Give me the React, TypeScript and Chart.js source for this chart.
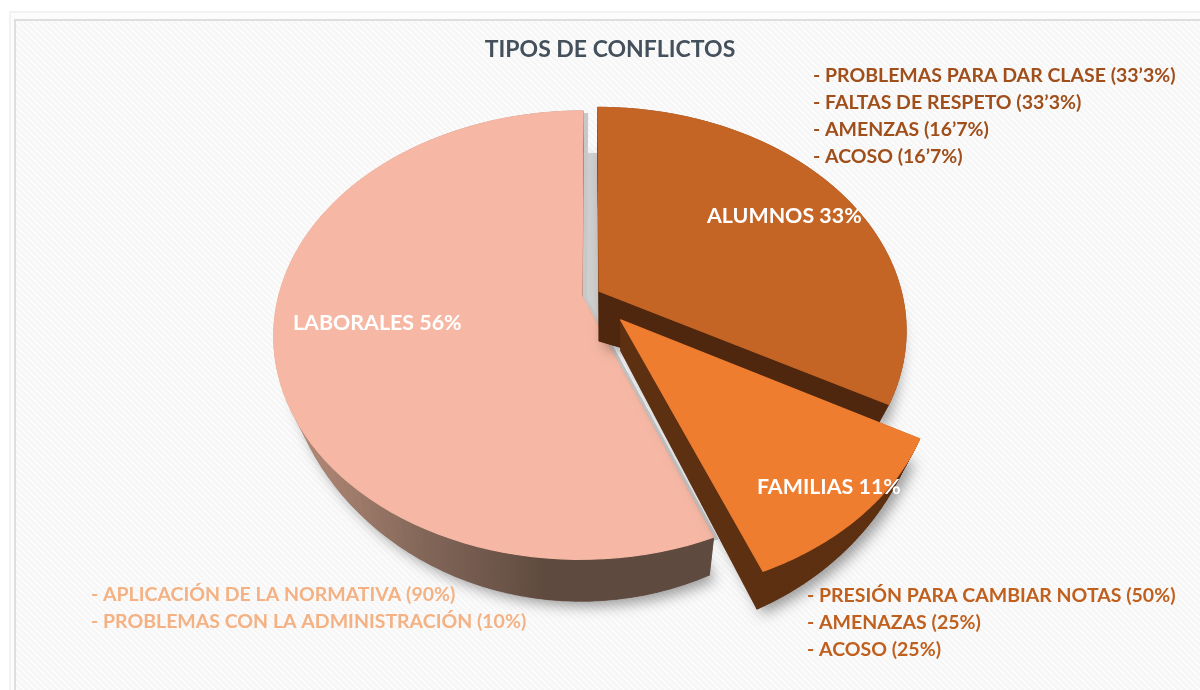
import React, { useEffect, useRef } from "react";
import { Chart, registerables } from "chart.js";

Chart.register(...registerables);

const chartTitle = "TIPOS DE CONFLICTOS";
const categories = ["ALUMNOS", "FAMILIAS", "LABORALES"];
const shares = [33, 11, 56];
const topColors = ["#c46526", "#ef7d30", "#f6b8a5"];
const wallColors = ["#4f270e", "#5e3012", "#5f4a3f"];
const explode = [0.035, 0.15, 0.027];
const alumnosNotes = ["- PROBLEMAS PARA DAR CLASE (33’3%)", "- FALTAS DE RESPETO (33’3%)", "- AMENZAS (16’7%)", "- ACOSO (16’7%)"];
const familiasNotes = ["- PRESIÓN PARA CAMBIAR NOTAS (50%)", "- AMENAZAS (25%)", "- ACOSO (25%)"];
const laboralesNotes = ["- APLICACIÓN DE LA NORMATIVA (90%)", "- PROBLEMAS CON LA ADMINISTRACIÓN (10%)"];

const FONT = "Lato, 'Open Sans', sans-serif";
// perspective of the pie's top face
const CX = 590, CY = 295, RX = 303, RY = 217, PERSP = 0.174;
const APEX_DEPTH = [50, 31, 32];
const DRAW_ORDER = [2, 0, 1];
const LABEL_POS = [[707, 216], [757, 487], [293, 323]];

type P = { x: number; y: number };

function project(u: number, v: number): P {
  const d = 1 + PERSP * v;
  return { x: CX + (RX * u) / d, y: CY - (RY * v) / d };
}

function slicePoly(start: number, end: number, off: number) {
  const a0 = start + Math.PI / 2, a1 = end + Math.PI / 2, mid = (a0 + a1) / 2;
  const ou = off * Math.sin(mid), ov = off * Math.cos(mid);
  const top: P[] = [project(ou, ov)];
  const disc: number[] = [0];
  const steps = 90;
  for (let i = 0; i <= steps; i++) {
    const t = a0 + ((a1 - a0) * i) / steps;
    top.push(project(ou + Math.sin(t), ov + Math.cos(t)));
    disc.push(Math.cos(t));
  }
  return { top, disc };
}

function lowerPoly(top: P[], disc: number[], apexDepth: number): P[] {
  return top.map((p, i) => {
    if (i === 0) return { x: p.x, y: p.y + apexDepth };
    const v = disc[i];
    return { x: p.x - 0.035 * (p.x - CX), y: p.y + 12 + 30 * v * v };
  });
}

function trace(ctx: CanvasRenderingContext2D, pts: P[]) {
  ctx.beginPath();
  pts.forEach((p, i) => (i ? ctx.lineTo(p.x, p.y) : ctx.moveTo(p.x, p.y)));
  ctx.closePath();
}

const backdrop = {
  id: "backdrop",
  beforeDraw(chart: any) {
    const { ctx, width, height } = chart;
    ctx.save();
    ctx.fillStyle = "#ffffff";
    ctx.fillRect(0, 0, width, height);
    ctx.fillStyle = "#f2f2f2";
    ctx.fillRect(9, 11, width - 9, height - 11);
    ctx.fillStyle = "#fcfcfc";
    ctx.fillRect(11, 13, width - 11, height - 13);
    ctx.fillStyle = "#dedede";
    ctx.fillRect(14, 19, width - 14, height - 19);
    const tile = document.createElement("canvas");
    tile.width = tile.height = 6;
    const t = tile.getContext("2d")!;
    t.fillStyle = "#f6f6f6";
    t.fillRect(0, 0, 6, 6);
    t.strokeStyle = "#fdfdfd";
    t.lineWidth = 1.6;
    for (let i = -6; i <= 6; i += 6) {
      t.beginPath();
      t.moveTo(i, 0);
      t.lineTo(i + 6, 6);
      t.stroke();
    }
    ctx.fillStyle = ctx.createPattern(tile, "repeat");
    ctx.fillRect(16, 21, width - 16, height - 21);
    ctx.restore();
  },
};

const pie3d = {
  id: "pie3d",
  beforeDatasetDraw() {
    return false;
  },
  afterDatasetsDraw(chart: any) {
    const { ctx } = chart;
    const arcs = chart.getDatasetMeta(0).data;
    ctx.save();
    ctx.lineJoin = "round";
    DRAW_ORDER.forEach((i) => {
      const { top, disc } = slicePoly(arcs[i].startAngle, arcs[i].endAngle, explode[i]);
      const low = lowerPoly(top, disc, APEX_DEPTH[i]);
      let wall: any = wallColors[i];
      if (i === 2) {
        const g = ctx.createLinearGradient(292, 0, 545, 0);
        g.addColorStop(0, "#b98d7a");
        g.addColorStop(0.5, "#84685a");
        g.addColorStop(1, wallColors[2]);
        wall = g;
      }
      // soft drop shadow
      ctx.save();
      ctx.shadowColor = "rgba(0,0,0,0.38)";
      ctx.shadowBlur = 14;
      ctx.shadowOffsetX = 6;
      ctx.shadowOffsetY = 5;
      ctx.fillStyle = wallColors[i];
      trace(ctx, low);
      ctx.fill();
      ctx.restore();
      if (i === 2) {
        // hard grey shadow cast behind the largest slice, towards its neighbours
        const backHalf = low.filter((_, k) => k > 0 && disc[k] > 0).map((p) => ({ x: p.x + 16, y: p.y }));
        ctx.fillStyle = "#cfcfcf";
        trace(ctx, [{ x: top[0].x + 16, y: top[0].y + 50 }, ...backHalf]);
        ctx.fill();
        ctx.fillStyle = "#c8c8c8";
        trace(ctx, top.map((p) => ({ x: p.x + 5, y: p.y + 2 })));
        ctx.fill();
      }
      // side walls
      ctx.fillStyle = wall;
      ctx.strokeStyle = wall;
      ctx.lineWidth = 0.6;
      for (let k = 0; k < top.length; k++) {
        const n = (k + 1) % top.length;
        trace(ctx, [top[k], top[n], low[n], low[k]]);
        ctx.fill();
        ctx.stroke();
      }
      // top face
      ctx.fillStyle = topColors[i];
      ctx.strokeStyle = topColors[i];
      ctx.lineWidth = 1.2;
      trace(ctx, top);
      ctx.fill();
      ctx.stroke();
    });

    ctx.textBaseline = "middle";
    ctx.textAlign = "left";
    ctx.font = `bold 21.4px ${FONT}`;
    ctx.fillStyle = "#ffffff";
    categories.forEach((c, i) => {
      ctx.fillText(`${c} ${shares[i]}%`, LABEL_POS[i][0], LABEL_POS[i][1]);
    });

    ctx.font = `bold 19.5px ${FONT}`;
    const block = (lines: string[], color: string, x: number, y: number, gap: number) => {
      ctx.fillStyle = color;
      lines.forEach((l, k) => ctx.fillText(l, x, y + k * gap));
    };
    block(alumnosNotes, "#a04f1b", 813, 76, 27);
    block(familiasNotes, "#c0601e", 807, 596, 27);
    block(laboralesNotes, "#f4b183", 91, 595, 27);
    ctx.restore();
  },
};

export default function App() {
  const ref = useRef<HTMLCanvasElement>(null);
  useEffect(() => {
    const chart = new Chart(ref.current!, {
      type: "pie",
      data: {
        labels: categories,
        datasets: [{ data: shares, backgroundColor: topColors, borderWidth: 0 }],
      },
      options: {
        responsive: false,
        animation: false,
        layout: { padding: { left: 20 } },
        plugins: {
          legend: { display: false },
          tooltip: { enabled: false },
          title: {
            display: true,
            text: chartTitle,
            color: "#44505c",
            fullSize: false,
            font: { family: FONT, size: 23, weight: "bold" },
            padding: { top: 36, bottom: 10 },
          },
        },
      },
      plugins: [backdrop, pie3d],
    } as any);
    return () => chart.destroy();
  }, []);
  return (
    <div style={{ position: "fixed", left: 0, top: 0, width: 1200, height: 690 }}>
      <canvas ref={ref} width={1200} height={690} style={{ display: "block" }} />
    </div>
  );
}
